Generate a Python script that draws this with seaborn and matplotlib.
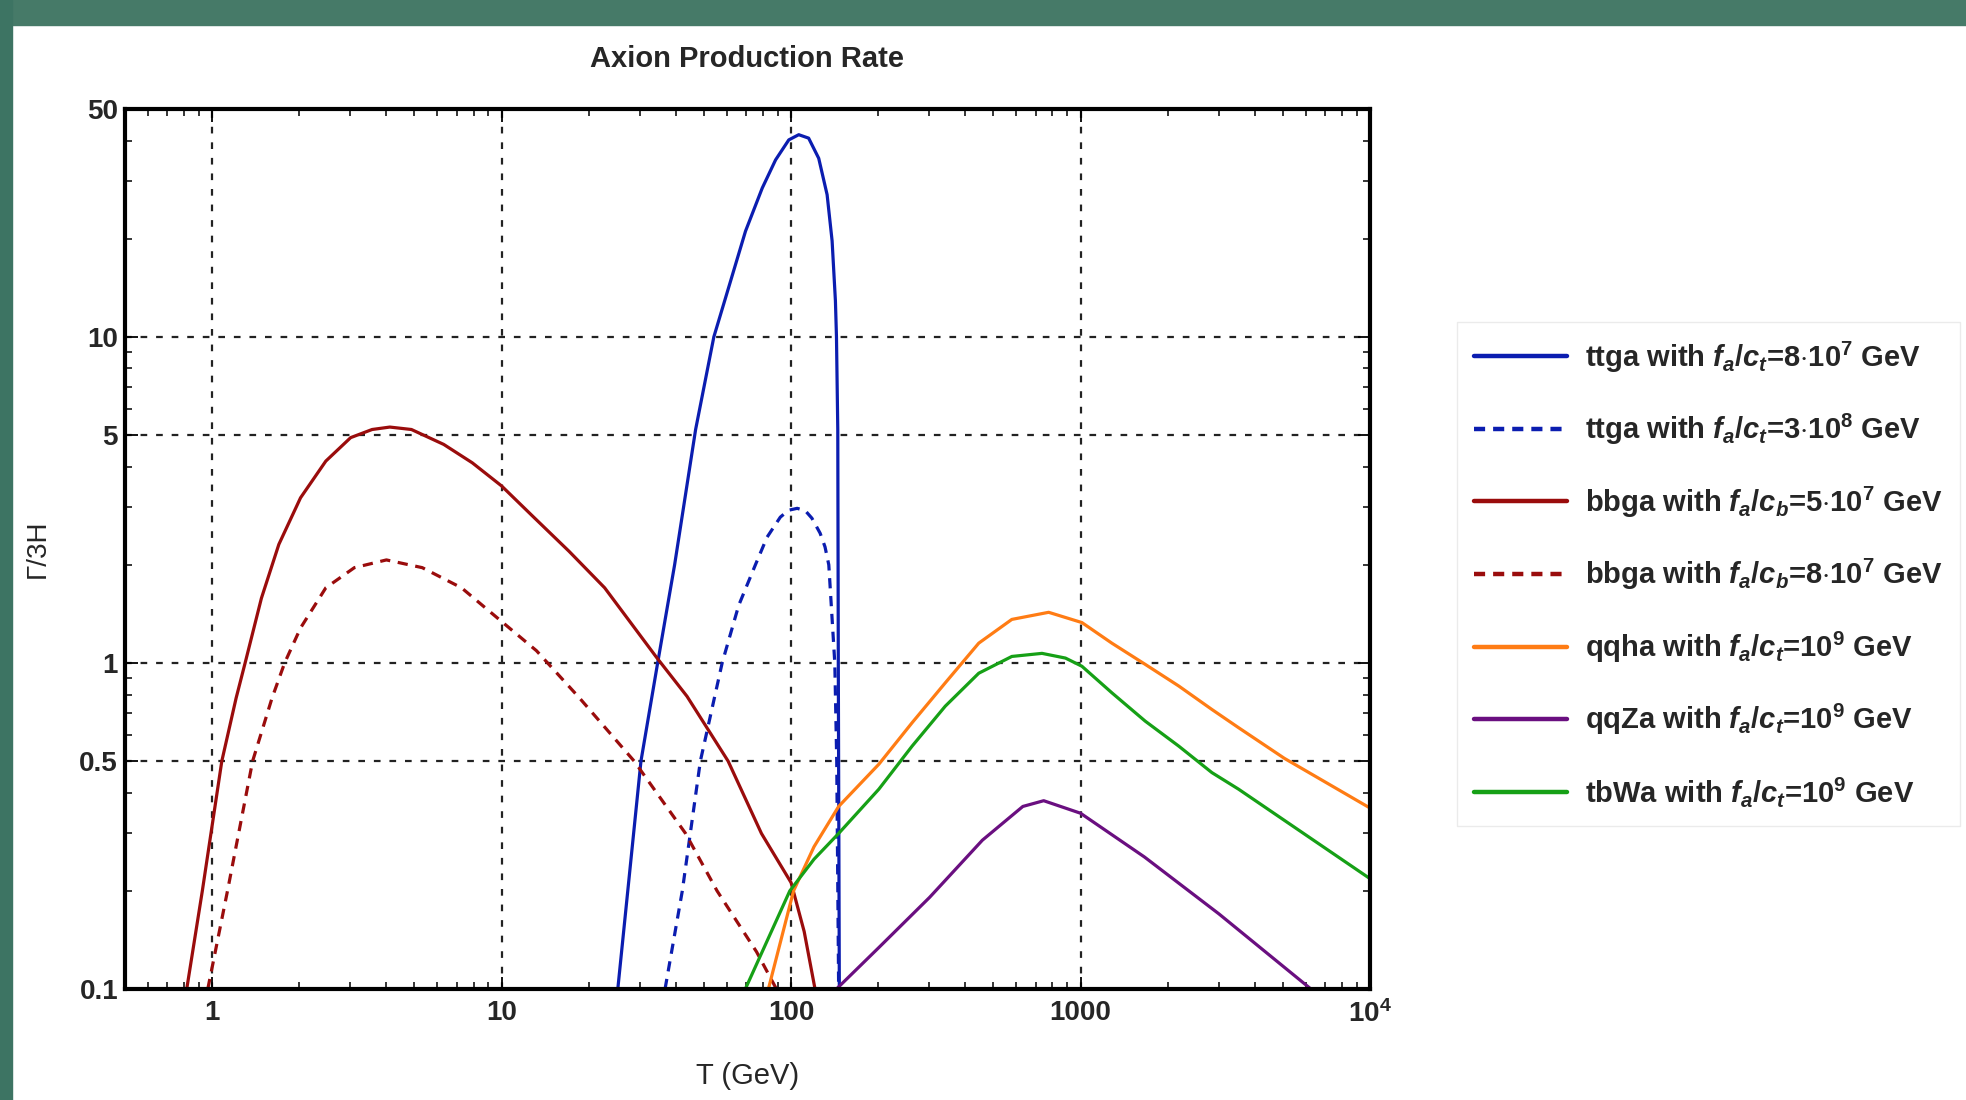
import matplotlib
matplotlib.use("Agg")
import matplotlib.pyplot as plt
import seaborn as sns
import numpy as np
from matplotlib.lines import Line2D
from matplotlib.patches import Rectangle
from matplotlib.ticker import FixedLocator, LogLocator, NullFormatter

# ---- data (T in GeV, Gamma/3H) ----
ttga1_T = [25.2, 30.3, 34.6, 39.6, 46.8, 54.1, 60.9, 69.6, 79.5, 88.4, 98.2, 106.3, 115, 124.6,
           133.2, 138.6, 142.3, 143.5, 145, 145.6, 146.8]
ttga1_G = [0.1, 0.5, 1, 2, 5.2, 10, 14.2, 21.1, 28.6, 34.9, 40.2, 41.7, 40.7, 35.3,
           27.3, 19.7, 12.9, 10, 5.2, 1, 0.1]

ttga2_T = [36.7, 42.1, 48.6, 57.8, 65.9, 75.3, 82.6, 91.8, 98, 105, 112, 118, 126, 131, 135, 141.6, 143.8, 146]
ttga2_G = [0.1, 0.2, 0.5, 1, 1.5, 2, 2.43, 2.8, 2.94, 2.98, 2.93, 2.78, 2.5, 2.27, 2, 1, 0.5, 0.1]

bbga1_T = [0.817, 0.925, 1.08, 1.21, 1.30, 1.48, 1.70, 2.02, 2.47, 3.01, 3.57, 4.11, 4.88, 6.31,
           7.92, 10, 12.8, 17.1, 22.7, 34.3, 43.7, 60.6, 79, 100, 111, 121]
bbga1_G = [0.1, 0.2, 0.5, 0.78, 1, 1.58, 2.31, 3.21, 4.16, 4.91, 5.20, 5.29, 5.20, 4.68,
           4.11, 3.49, 2.82, 2.20, 1.70, 1.04, 0.79, 0.5, 0.3, 0.212, 0.15, 0.1]

bbga2_T = [0.966, 1.13, 1.38, 1.61, 1.78, 2.02, 2.47, 3.10, 4.0, 5.32, 7.27, 10, 13.2, 18.6,
           28.7, 43.2, 55.5, 76, 89]
bbga2_G = [0.1, 0.2, 0.5, 0.78, 1, 1.28, 1.70, 1.96, 2.07, 1.96, 1.70, 1.34, 1.09, 0.78,
           0.5, 0.3, 0.2, 0.13, 0.1]

qqha_T = [83.5, 102, 120, 146, 201, 262, 341, 445, 579, 776, 1011, 1283, 1673, 2183, 2843, 3516,
          5058, 10000]
qqha_G = [0.1, 0.2, 0.273, 0.363, 0.489, 0.656, 0.869, 1.15, 1.36, 1.43, 1.33, 1.15, 0.99, 0.85,
          0.72, 0.633, 0.51, 0.359]

qqZa_T = [143.5, 201, 301, 458, 632, 746, 1000, 1663, 3006, 6250]
qqZa_G = [0.1, 0.134, 0.191, 0.286, 0.363, 0.378, 0.346, 0.254, 0.170, 0.1]

tbWa_T = [69.5, 99, 120, 146, 201, 262, 341, 445, 579, 736, 887, 1011, 1283, 1673, 2183, 2843,
          3516, 10000]
tbWa_G = [0.1, 0.2, 0.25, 0.30, 0.41, 0.556, 0.737, 0.93, 1.047, 1.07, 1.035, 0.977, 0.81,
          0.663, 0.556, 0.461, 0.41, 0.218]

labels = [
    r"ttga with $f_a/c_t$=8$\cdot$10$^7$ GeV",
    r"ttga with $f_a/c_t$=3$\cdot$10$^8$ GeV",
    r"bbga with $f_a/c_b$=5$\cdot$10$^7$ GeV",
    r"bbga with $f_a/c_b$=8$\cdot$10$^7$ GeV",
    r"qqha with $f_a/c_t$=10$^9$ GeV",
    r"qqZa with $f_a/c_t$=10$^9$ GeV",
    r"tbWa with $f_a/c_t$=10$^9$ GeV",
]

x_ticks = [1, 10, 100, 1000, 10000]
x_ticklabels = ["1", "10", "100", "1000", r"10$^4$"]
y_ticks = [0.1, 0.5, 1, 5, 10, 50]
y_ticklabels = ["0.1", "0.5", "1", "5", "10", "50"]

BLUE = "#0b1db0"
RED = "#9a0c0c"
ORANGE = "#ff7c14"
PURPLE = "#6a0f80"
GREEN = "#16a016"

sns.set_theme(style="ticks")
plt.rcParams['font.family'] = ['Liberation Sans', 'DejaVu Sans']
plt.rcParams['font.weight'] = 'bold'
plt.rcParams['axes.titleweight'] = 'bold'
plt.rcParams['mathtext.fontset'] = 'custom'
plt.rcParams['mathtext.rm'] = 'Liberation Sans:bold'
plt.rcParams['mathtext.it'] = 'Liberation Sans:italic:bold'
plt.rcParams['mathtext.bf'] = 'Liberation Sans:bold'

fig = plt.figure(figsize=(19.66, 11), dpi=100)
fig.patch.set_facecolor("white")
# slide background strips
fig.patches.append(Rectangle((0, 1 - 25 / 1100), 1, 25 / 1100, transform=fig.transFigure,
                             color="#467a68", zorder=0))
fig.patches.append(Rectangle((0, 0), 12 / 1966, 1, transform=fig.transFigure,
                             color="#3d7463", zorder=0))

ax = fig.add_axes([125 / 1966, 1 - 989 / 1100, 1245 / 1966, 880 / 1100])
ax.set_xscale("log")
ax.set_yscale("log")

series = [
    (ttga1_T, ttga1_G, BLUE, "-"),
    (ttga2_T, ttga2_G, BLUE, "--"),
    (bbga1_T, bbga1_G, RED, "-"),
    (bbga2_T, bbga2_G, RED, "--"),
    (qqha_T, qqha_G, ORANGE, "-"),
    (qqZa_T, qqZa_G, PURPLE, "-"),
    (tbWa_T, tbWa_G, GREEN, "-"),
]
for xs, ys, col, ls in series:
    sns.lineplot(x=xs, y=ys, ax=ax, color=col, lw=2.3, sort=False,
                 estimator=None, linestyle=ls)
for ln, (_, _, _, ls) in zip(ax.get_lines(), series):
    ln.set_solid_joinstyle("round")
    ln.set_dash_joinstyle("round")
    if ls == "--":
        ln.set_dashes((3.2, 2.4))

ax.set_xlim(0.5, 10000)
ax.set_ylim(0.1, 50)

ax.xaxis.set_major_locator(FixedLocator(x_ticks))
ax.set_xticklabels(x_ticklabels)
ax.xaxis.set_minor_locator(LogLocator(base=10, subs=np.arange(2, 10)))
ax.xaxis.set_minor_formatter(NullFormatter())
ax.yaxis.set_major_locator(FixedLocator(y_ticks))
ax.set_yticklabels(y_ticklabels)
ax.yaxis.set_minor_locator(LogLocator(base=10, subs=[2, 3, 4, 6, 7, 8, 9]))
ax.yaxis.set_minor_formatter(NullFormatter())

ax.tick_params(which="both", direction="in", top=True, right=True, color="black")
ax.tick_params(which="major", length=9, width=1.3, labelsize=20, pad=8)
ax.tick_params(which="minor", length=5, width=1.1)
ax.tick_params(axis="y", which="major", pad=5)

ax.grid(True, which="major", color="#222222", linestyle=(0, (3, 4)), linewidth=1.6)
for s in ax.spines.values():
    s.set_linewidth(3)
    s.set_color("black")
    s.set_zorder(5)

ax.set_title("Axion Production Rate", fontsize=21, pad=30)
ax.set_xlabel("T (GeV)", fontsize=21, fontweight="normal")
ax.set_ylabel("Γ/3H", fontsize=20)
ax.xaxis.set_label_coords(0.5, -0.083)
ax.yaxis.set_label_coords(-0.06, 0.5)

handles = [Line2D([], [], color=c, lw=3.2, linestyle=ls,
                  dashes=(2.5, 1.8) if ls == "--" else (None, None))
           for _, _, c, ls in series]
leg = ax.legend(handles, labels, loc="center left", bbox_to_anchor=(1442 / 1966, 1 - 574 / 1100),
                bbox_transform=fig.transFigure, fontsize=21, frameon=True, fancybox=False,
                labelspacing=1.28, handlelength=3.2, handletextpad=0.6, borderpad=0.6)
leg.get_frame().set_edgecolor("#e6e6e6")
leg.get_frame().set_linewidth(1.0)

fig.savefig("out.png", dpi=100, facecolor=fig.get_facecolor())
